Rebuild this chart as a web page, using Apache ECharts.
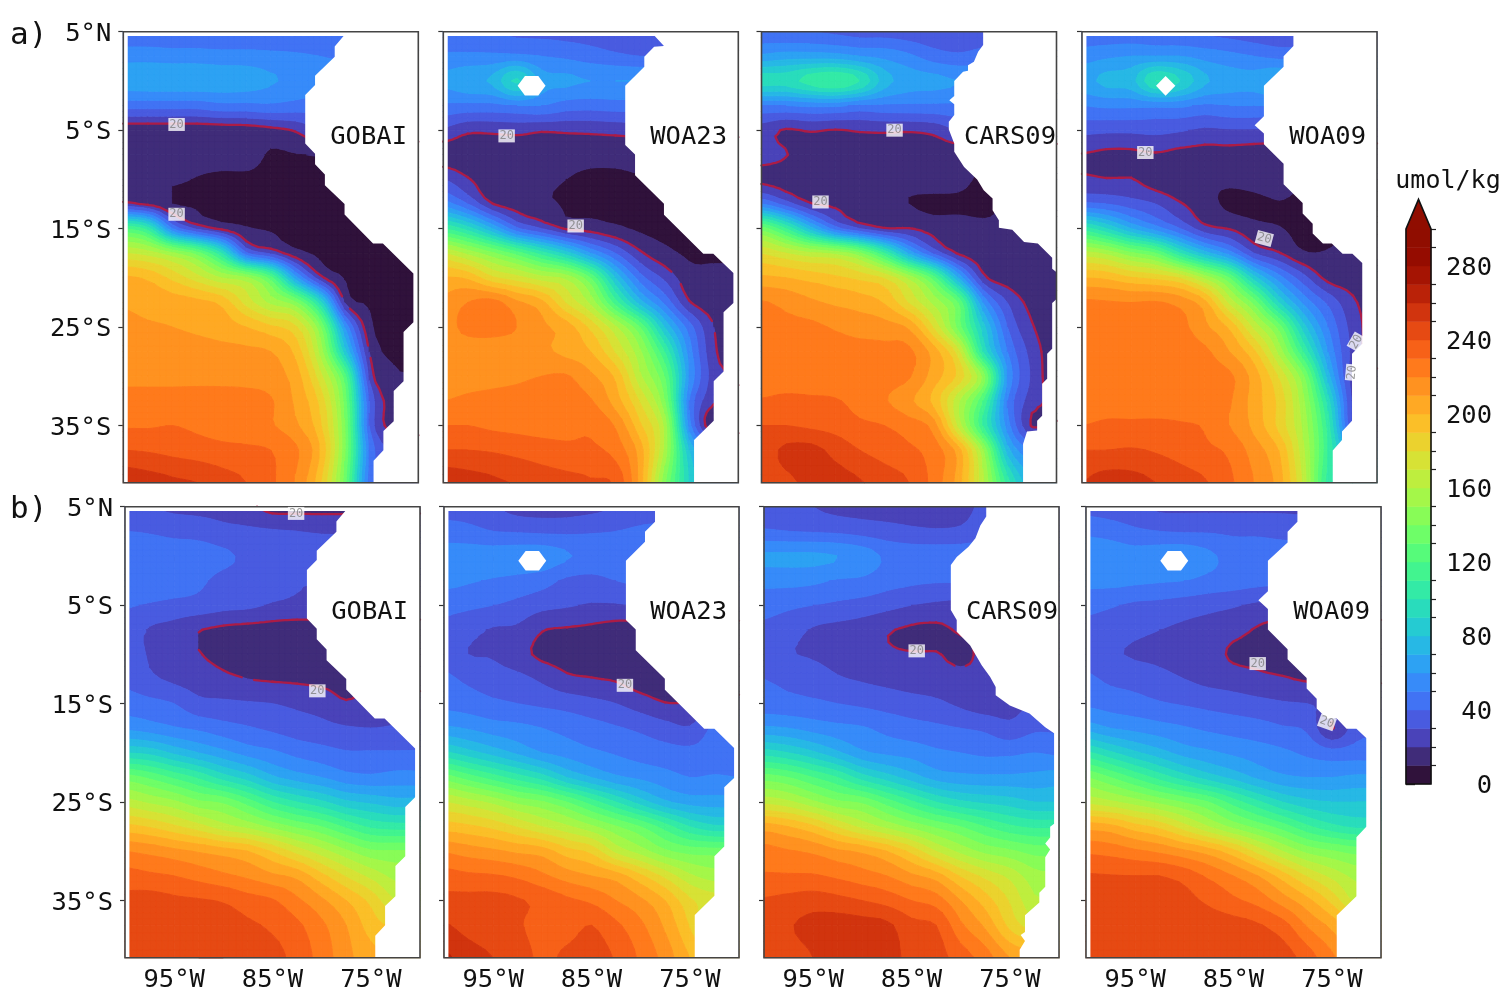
<!DOCTYPE html>
<html>
<head>
<meta charset="utf-8">
<style>html,body{margin:0;padding:0;background:#fff}#c{width:1506px;height:989px}</style>
<script src="https://cdn.jsdelivr.net/npm/echarts@6/dist/echarts.min.js"></script>
</head>
<body>
<div id="c"></div>
<script>
// Node positions of every field (degrees)
const lons = [-100,-97.5,-95,-92.5,-90,-87.5,-85,-82.5,-80,-77.5,-75,-72.5,-70];
const lats = [5,2.5,0,-2.5,-5,-7.5,-10,-12.5,-15,-17.5,-20,-22.5,-25,-27.5,-30,-32.5,-35,-37.5,-40.8];

// Values, umol/kg, one row per latitude
const gobaiA = [
[41,41,40,40,39,39,39,38,39,41,41,41,41],
[56,56,55,55,54,54,53,52,50,48,46,46,46],
[66,67,67,67,66,65,61,58,56,55,55,55,55],
[44,44,44,44,47,47,48,46,44,44,44,44,44],
[14,14,14,14,14.5,15,17,21,30,30,30,30,30],
[14,14,14,14,14,14,9,9.5,10.5,10,10,10,10],
[13,13,11.5,9.5,8,8,8,8,8,8,8,8,8],
[23,18,10,8.5,7,7,7,7,7,7,7,7,7],
[120,105,50,28,18,11,9,7,6.5,6.5,6.5,6.5,6.5],
[170,165,152,135,100,42,28,14,8,7,7,7,7],
[202,198,187,174,160,152,125,65,24,9.5,7,7,7],
[209,207,205,203,197,176,157,142,95,20,9,7,7],
[212,211,210,208,205,200,192,182,142,60,13,7,7],
[215,215,214,214,213,212,210,197,157,85,20,8,7],
[218,218,218,218,217,216,214,205,174,125,28,12,11],
[223,223,223,223,224,224,221,208,187,136,40,15,15],
[229,229,230,228,226,224,221,212,192,141,40,16,16],
[240,239,237,235,233,232,230,222,200,142,50,28,28],
[258,255,252,250,245,240,232,219,192,135,45,40,40]];
const woa23A = [
[40,42,40,38,37,36,35,33,32,30,30,30,30],
[52,52,52,52,50,48,45,42,40,40,40,40,40],
[62,68,72,92,65,62,60,60,60,60,60,60,60],
[48,47,47,50,50,45,44,45,45,45,45,45,45],
[28,22,22,23,21,21.5,22,23,24,24,24,24,24],
[15,14,14,14,14,14,13.5,13,13,13,13,13,13],
[30,21,13,12,12,10,8,8.5,9.5,9,9,9,9],
[55,40,20.5,15,12.5,9,8,8,8,8,8,8,8],
[110,95,70,42,30,19,16,12,8.5,7,7,7,7],
[170,157,142,125,105,85,60,40,22,13,8.5,8,8],
[201,198,182,174,164,157,130,80,45,28,14,13,13],
[212,220,224,212,203,179,157,115,75,48,21,15,14],
[214,224,224,220,212,205,187,162,130,80,45,20,14],
[212,212,214,213,212,207,200,179,152,110,55,22,15],
[215,216,217,218,220,221,212,198,162,130,60,25,20],
[220,222,223,224,226,224,221,205,179,141,50,22,18],
[230,230,228,227,226,226,228,219,192,157,55,10,10],
[240,240,239,237,235,233,232,226,205,157,80,50,50],
[258,255,252,249,245,243,241,238,206,142,90,60,60]];
const cars09A = [
[42,40,40,38,36,36,34,32,31,32,34,34,34],
[62,65,65,64,60,57,52,45,42,45,48,48,48],
[95,95,105,110,100,75,65,63,60,58,55,55,55],
[50,50,52,52,48,48,48,48,48,48,48,48,48],
[25,19,21,19.5,21,21.5,21,23,30,30,30,30,30],
[25,20.5,14,14,14,14,14,14,14,14,14,14,14],
[17,15,14,14,14,14,13,14,13,8.5,12,12,12],
[50,35,21,18,15,13,10,8,8,7.5,12,14,14],
[135,110,75,45,30,21,20.5,16,14,12,11,13,14],
[179,170,162,157,142,110,68,38,19,14,13,13,13],
[202,200,196,192,187,179,157,125,70,24,15,14,14],
[221,217,212,208,205,199,179,157,130,60,30,17,14],
[222,222,222,219,216,214,208,179,136,85,40,21,14],
[222,222,222,223,223,223,222,205,174,100,50,26,14],
[223,223,223,223,223,224,221,205,187,147,60,28,14],
[231,233,232,231,226,221,212,197,162,120,50,25,18],
[240,240,238,236,232,230,225,215,167,110,55,19,22],
[245,252,253,247,240,236,232,225,205,152,75,50,50],
[245,248,252,254,251,245,240,226,205,162,105,70,70]];
const woa09A = [
[42,42,42,42,40,38,36,33,31,31,31,31,31],
[55,58,60,60,60,56,53,50,47,46,46,46,46],
[66,73,76,100,90,72,65,64,70,60,60,60,60],
[50,52,52,52,52,48,50,50,50,50,50,50,50],
[33,32,32,33,31,28,29,29,28,28,28,28,28],
[19.5,18,18,19,17,16,16,15,15,15,15,15,15],
[22,20.5,20.5,15,13,12,12,13,14,10,10,10,10],
[42,40,35,30,21,14,8,8,9.5,8.5,8.5,8.5,8.5],
[105,90,70,55,40,24,19.5,13,10.5,8,9,9,9],
[164,157,142,130,100,75,55,30,21,11,10.5,12,12],
[200,198,191,187,179,157,130,85,55,34,17,15,14],
[222,221,220,221,216,203,167,136,90,58,38,22,15],
[223,223,223,224,223,212,198,167,136,85,50,26,15],
[223,223,224,224,224,222,210,192,157,110,60,27,15],
[224,224,224,224,224,224,222,205,179,142,75,25,22],
[224,225,225,225,225,224,221,205,187,152,95,28,22],
[230,232,232,232,231,229,220,207,187,157,105,30,22],
[240,240,241,239,236,232,228,215,200,162,110,60,60],
[250,255,254,250,245,241,232,220,205,167,105,90,90]];
const gobaiB = [
[32,30,28,27,26,22,17,17,17,17,17,17,17],
[40,39,37,36,33,32,31,30,29,29,30,30,30],
[49,47,46,45,42,38,37,36,35,34,34,34,34],
[48,47,46,42,37,36,34,31,30,30,30,30,30],
[41,39,37,36,33,32,29,28,28,28,28,28,28],
[36,29,26,20.5,18,17,16,15,15,15,15,15,15],
[36,29,26,20.5,18,17,16,15,15,15,15,15,15],
[38,32,28,25,22,20,19,18.5,17.5,16,16,16,16],
[45,43,40,33,32,31,30,28,26,21,25,25,25],
[58,55,51,48,44,41,38,35,33,31,30,31,33],
[90,87,78,70,63,56,52,47,44,41,41,41,41],
[135,128,118,108,95,85,72,65,60,54,52,54,54],
[164,158,152,142,138,125,110,100,92,82,78,74,74],
[193,189,182,174,164,157,147,138,130,118,108,105,105],
[220,217,213,209,205,200,189,176,164,152,142,141,141],
[234,232,230,226,222,218,212,207,193,179,167,157,157],
[243,244,242,241,239,234,231,222,212,200,187,170,167],
[246,246,247,247,246,242,238,232,222,210,195,187,179],
[249,249,249,250,250,248,244,236,226,213,204,198,195]];
const woa23B = [
[35,35,31,26,25,25,27,30,33,38,40,40,40],
[45,43,40,39,38,38,39,40,42,42,42,42,42],
[54,55,55,56,56,51,47,46,46,46,46,46,46],
[53,51,49,47,44,38,37,40,42,42,42,42,42],
[43,42,40,37,33,31,29,29,31,31,31,31,31],
[38,33,29,28,20.5,19,18,16,15,15,15,15,15],
[37,30,29,23.5,18,17,16,15,14,14,14,14,14],
[42,38,35,33,28,22,20.5,19,15,14,14,14,14],
[47,45,42,40,38,36,33,30,25,20.5,21,25,25],
[62,59,55,53,50,47,44,41,38,34,31,42,45],
[92,84,76,68,60,56,52,49,46,44,43,45,46],
[135,125,115,105,95,80,70,62,58,54,50,51,50],
[170,164,157,147,141,130,115,100,85,72,66,65,65],
[195,192,187,179,170,162,152,141,130,115,100,92,92],
[219,215,212,208,205,194,187,167,155,142,136,135,135],
[234,232,231,228,222,215,210,205,192,177,162,155,155],
[243,243,243,241,237,232,228,220,212,200,182,174,174],
[251,246,243,241,236,236,240,232,222,208,189,167,167],
[262,255,250,245,238,242,244,239,228,216,200,198,198]];
const cars09B = [
[36,34,30,27,26,25,25,25,26,33,36,36,36],
[41,40,39,38,36,34,32,31,32,37,38,38,38],
[62,62,62,60,56,48,46,46,46,45,45,45,45],
[53,53,52,49,48,44,42,41,41,41,41,41,41],
[44,42,40,38,36,33,30,28,27,27,27,27,27],
[38,34,29,27,25,21,18.5,18,21,22,22,22,22],
[38,31,29,27,25,21.5,20.5,20.5,18,22,22,22,22],
[40,38,35,31,29,27,25,24,23,22,23,23,23],
[44,43,42,40,38,36,34,32,28,24,26,30,30],
[62,60,56,53,51,47,44,42,40,38,33,38,38],
[95,90,82,72,62,58,56,52,50,48,48,50,48],
[135,130,120,110,95,85,75,66,63,62,62,63,65],
[167,162,152,142,138,125,112,100,92,88,85,80,80],
[205,200,192,179,167,157,147,138,130,120,112,108,108],
[224,221,218,212,208,200,187,170,157,147,142,136,136],
[231,231,231,228,224,220,212,205,189,177,167,154,152],
[241,243,245,243,240,236,230,225,210,195,179,162,162],
[244,249,253,255,254,252,243,240,222,208,187,174,174],
[243,246,250,256,256,254,247,244,235,225,210,205,205]];
const woa09B = [
[36,34,31,28,28,28,28,28,28,27,27,27,27],
[48,46,42,40,39,39,38,38,37,37,37,37,37],
[55,55,54,56,57,52,46,45,44,43,43,43,43],
[53,53,52,51,50,47,45,43,42,42,42,42,42],
[43,41,38,37,35,33,31,28,28,28,28,28,28],
[37,35,32,30,28,26,23,19,16,16,16,16,16],
[36,31.5,29,28,26,24,18.5,17.5,15,15,15,15,15],
[42,38,36,33,30,27,25,22.5,21,19,19,19,19],
[48,46,44,41,39,37,35,33,31,30,28,26,26],
[66,60,57,54,51,48,46,44,41,38,19.5,35,38],
[102,92,82,74,66,62,58,55,52,48,44,45,45],
[140,130,118,106,95,85,77,68,62,60,60,62,62],
[167,162,155,147,139,130,115,102,90,83,80,80,80],
[206,203,194,187,174,160,147,136,125,112,103,98,98],
[228,226,222,218,212,205,193,176,160,147,141,136,136],
[241,240.5,240,240,236,228,220,210,195,179,167,157,157],
[244,244,244,244,243,238,232,226,215,203,187,167,167],
[246,246,246,246,246,245,244,241,234,219,207,192,192],
[248,248,248,248,248,248,248,247,245,235,222,210,210]];

// Coastlines, [lon, lat]
const coastGobai = [[-77.6,4.56],[-78.5,3.5],[-78.5,2.46],[-80.5,.53],[-80.5,-.42],[-81.5,-1.44],[-81.5,-6.36],[-80.5,-7.4],[-80.5,-8.46],[-79.5,-9.5],[-79.5,-10.6],[-77.5,-12.5],[-77.5,-13.56],[-74.6,-16.5],[-73.6,-16.5],[-70.5,-19.55],[-70.5,-24.5],[-71.5,-25.5],[-71.5,-30.5],[-72.5,-31.5],[-72.5,-34.55],[-73.55,-35.55],[-73.55,-37.5],[-74.55,-38.56],[-74.55,-40.8]];
const coastWoa23A = [[-78.5,4.56],[-77.56,3.54],[-78.56,3.47],[-79.56,2.46],[-79.56,1.44],[-81.5,-.5],[-81.5,-6.5],[-80.5,-7.47],[-80.5,-9.58],[-77.56,-12.46],[-77.56,-13.6],[-73.56,-17.54],[-72.54,-17.54],[-70.5,-19.5],[-70.5,-22.56],[-71.5,-23.5],[-71.5,-29.5],[-72.5,-30.5],[-72.5,-34.5],[-74.5,-36.46],[-74.5,-40.8]];
const coastWoa23B = [[-78.54,4.56],[-78.54,3.47],[-79.56,2.46],[-79.56,1.44],[-81.5,-.5],[-81.5,-6.5],[-80.5,-7.47],[-80.5,-9.58],[-77.54,-12.46],[-77.54,-13.6],[-73.54,-17.54],[-72.5,-17.54],[-70.5,-19.5],[-70.5,-22.56],[-71.5,-23.5],[-71.5,-29.5],[-72.5,-30.5],[-72.5,-34.5],[-74.5,-36.46],[-74.5,-40.8]];
const coastCars09A = [[-77.46,5],[-77.46,3.64],[-77.97,2.97],[-78.4,1.95],[-79,1.6],[-79,1.03],[-79.5,.93],[-80.4,0],[-80.4,-1.54],[-80.9,-1.95],[-80.4,-2.36],[-80.4,-3.47],[-80.95,-4.15],[-80.95,-4.93],[-80.4,-6.36],[-80.4,-7.2],[-79.4,-8.73],[-78.07,-10],[-77.4,-11.1],[-76.5,-11.95],[-76.5,-13.14],[-75.86,-14.15],[-75.86,-14.9],[-74.5,-15.1],[-73.3,-16.35],[-71.9,-16.5],[-70.44,-17.95],[-70.44,-19.07],[-69.93,-19.47],[-69.93,-22.1],[-70.44,-22.56],[-70.44,-27.2],[-70.95,-27.7],[-70.95,-30.25],[-71.46,-30.76],[-71.46,-34],[-71.97,-34.5],[-71.97,-35.5],[-73,-35.6],[-73.4,-36.86],[-73.4,-40.8]];
const coastCars09B = [[-77.4,5],[-77.4,4],[-78,3.1],[-78.5,1.8],[-79.2,.93],[-80.4,-.1],[-81,-.93],[-81,-5.5],[-80.4,-6.5],[-80.4,-7.7],[-79.05,-9.07],[-77.86,-11.1],[-77,-12.3],[-76.44,-13.3],[-76.44,-14.15],[-75,-15.2],[-73,-16],[-71.4,-17.4],[-70.5,-18],[-70.5,-27.2],[-70.9,-27.5],[-70.9,-28.6],[-71.4,-29.2],[-70.9,-29.8],[-71.4,-30.6],[-71.4,-33.6],[-72,-34.2],[-72,-35.2],[-73.46,-36.5],[-73.46,-38.2],[-73.9,-38.5],[-73.46,-39.1],[-74,-40],[-74,-40.8]];
const coastWoa09A = [[-78.5,4.56],[-78.5,3.54],[-79.5,2.5],[-79.5,1.44],[-81.5,-.5],[-81.5,-3.58],[-82.44,-4.5],[-81.5,-5.34],[-81.5,-6.42],[-79.5,-8.4],[-79.5,-10.5],[-77.56,-12.4],[-77.56,-13.47],[-76.54,-14.5],[-76.54,-15.5],[-75.5,-16.5],[-74.6,-16.5],[-73.5,-17.54],[-72.5,-17.54],[-71.5,-18.5],[-71.5,-26.7],[-72.54,-27.7],[-72.54,-34.5],[-73.56,-35.6],[-73.56,-36.46],[-74.5,-37.54],[-74.5,-40.8]];
const coastWoa09B = [[-78.5,4.56],[-78.5,3.47],[-79.5,2.46],[-79.5,1.37],[-81.5,-.5],[-81.5,-3.58],[-82.47,-4.5],[-81.5,-5.4],[-81.5,-7.47],[-79.5,-9.47],[-79.5,-10.5],[-77.56,-12.4],[-77.56,-13.47],[-76.54,-14.5],[-76.54,-15.5],[-75.5,-16.5],[-74.5,-16.5],[-73.5,-17.54],[-72.5,-17.54],[-71.5,-18.5],[-71.5,-27.5],[-72.5,-28.56],[-72.5,-34.56],[-74.5,-36.5],[-74.5,-40.8]];
const islandHex = [[-92.44,-.49],[-91.7,.49],[-90.34,.49],[-89.6,-.49],[-90.34,-1.47],[-91.7,-1.47]];
const islandDiamond = [[-92.47,-.5],[-91.5,.5],[-90.5,-.5],[-91.5,-1.5]];

// Positions of the "20" contour labels: [lon, lat, rotation]
const labelsGobaiA = [[-94.58,-4.42,0],[-94.58,-13.54,0]];
const labelsWoa23A = [[-93.56,-5.58,0],[-86.54,-14.73,0]];
const labelsCars09A = [[-86.47,-5,0],[-94,-12.29,0]];
const labelsWoa09A = [[-93.56,-7.27,0],[-81.46,-16,-15],[-72.1,-26.5,60],[-72.54,-29.6,85]];
const labelsGobaiB = [[-82.6,4.32,0],[-80.44,-13.7,0]];
const labelsWoa23B = [[-81.6,-13.14,0]];
const labelsCars09B = [[-84.47,-9.64,0]];
const labelsWoa09B = [[-82.54,-10.93,0],[-75.5,-16.9,-20]];

const colorbarTicks = [0,40,80,120,160,200,240,280];
const colorbarMinor = [10,20,30,50,60,70,90,100,110,130,140,150,170,180,190,210,220,230,250,260,270,290,300];
const xTicks = [-95,-85,-75];
const yTicks = [5,-5,-15,-25,-35];
const contourLevel = 20;
const bandWidth = 10;

const panels = [
 {name:'GOBAI', field:gobaiA, coast:coastGobai, labels:labelsGobaiA, island:null, west:-99.55, north:4.56, left:123.3, top:31.7, tx:407, ty:137, yLab:true, xLab:false},
 {name:'WOA23', field:woa23A, coast:coastWoa23A, labels:labelsWoa23A, island:islandHex, west:-99.55, north:4.56, left:443.3, top:31.7, tx:727, ty:137, yLab:false, xLab:false},
 {name:'CARS09', field:cars09A, coast:coastCars09A, labels:labelsCars09A, island:null, west:-100, north:5, left:761.5, top:31.7, tx:1056, ty:137, yLab:false, xLab:false},
 {name:'WOA09', field:woa09A, coast:coastWoa09A, labels:labelsWoa09A, island:islandDiamond, west:-99.55, north:4.56, left:1082, top:31.7, tx:1366, ty:137, yLab:false, xLab:false},
 {name:'GOBAI', field:gobaiB, coast:coastGobai, labels:labelsGobaiB, island:null, west:-99.55, north:4.56, left:125, top:506.7, tx:408, ty:612.5, yLab:true, xLab:true},
 {name:'WOA23', field:woa23B, coast:coastWoa23B, labels:labelsWoa23B, island:islandHex, west:-99.55, north:4.56, left:444, top:506.7, tx:727, ty:612.5, yLab:false, xLab:true},
 {name:'CARS09', field:cars09B, coast:coastCars09B, labels:labelsCars09B, island:null, west:-100, north:5, left:764, top:506.7, tx:1058, ty:612.5, yLab:false, xLab:true},
 {name:'WOA09', field:woa09B, coast:coastWoa09B, labels:labelsWoa09B, island:islandHex, west:-99.55, north:4.56, left:1086, top:506.7, tx:1370, ty:612.5, yLab:false, xLab:true}
];

const MONO = '"DejaVu Sans Mono", monospace';
function turbo(x){
  if(x<=0) return '#30123b';
  const r=0.13572138+x*(4.6153926+x*(-42.66032258+x*(132.13108234+x*(-152.94239396+x*59.28637943))));
  const g=0.09140261+x*(2.19418839+x*(4.84296658+x*(-14.18503333+x*(4.27729857+x*2.82956604))));
  const b=0.1066733+x*(12.64194608+x*(-60.58204836+x*(110.36276771+x*(-89.90310912+x*27.34824973))));
  const c=v=>Math.max(0,Math.min(255,Math.round(v*255)));
  return 'rgb('+c(r)+','+c(g)+','+c(b)+')';
}
const bandColor = b => turbo(Math.min(b,29)/29);

function clip(poly, level, keepAbove){
  const out=[];
  for(let i=0;i<poly.length;i++){
    const a=poly[i], b=poly[(i+1)%poly.length];
    const ina=keepAbove? a[2]>=level : a[2]<=level;
    const inb=keepAbove? b[2]>=level : b[2]<=level;
    if(ina) out.push(a);
    if(ina!==inb){
      const t=(level-a[2])/(b[2]-a[2]);
      out.push([a[0]+t*(b[0]-a[0]),a[1]+t*(b[1]-a[1]),level]);
    }
  }
  return out;
}
const f2=v=>v.toFixed(2);
function addBands(tri, paths){
  const vs=tri.map(p=>p[2]);
  const lo=Math.min(vs[0],vs[1],vs[2]), hi=Math.max(vs[0],vs[1],vs[2]);
  for(let b=Math.floor(lo/bandWidth); b<=Math.floor(hi/bandWidth); b++){
    let poly=clip(tri,b*bandWidth,true);
    if(poly.length>2) poly=clip(poly,(b+1)*bandWidth,false);
    if(poly.length>2){
      paths[b]=(paths[b]||'')+'M'+poly.map(p=>f2(p[0])+' '+f2(p[1])).join('L')+'Z';
    }
  }
}
function addContour(tri, out){
  const pts=[];
  for(let i=0;i<3;i++){
    const a=tri[i], b=tri[(i+1)%3];
    if((a[2]-contourLevel)*(b[2]-contourLevel)<0){
      const t=(contourLevel-a[2])/(b[2]-a[2]);
      pts.push([a[0]+t*(b[0]-a[0]),a[1]+t*(b[1]-a[1])]);
    }
  }
  if(pts.length===2) out.s+='M'+f2(pts[0][0])+' '+f2(pts[0][1])+'L'+f2(pts[1][0])+' '+f2(pts[1][1]);
}
// contour surface through the read values: cubic between nodes, kept inside each cell's range
const SUB=4;
function cr(p0,p1,p2,p3,t){
  return 0.5*((2*p1)+(-p0+p2)*t+(2*p0-5*p1+4*p2-p3)*t*t+(-p0+3*p1-3*p2+p3)*t*t*t);
}
function surface(field,i,j,s,t){
  const nr=field.length,nc=field[0].length,R=[];
  for(let a=-1;a<=2;a++){
    const row=field[Math.max(0,Math.min(nr-1,i+a))];
    const g=d=>row[Math.max(0,Math.min(nc-1,j+d))];
    R.push(cr(g(-1),g(0),g(1),g(2),t));
  }
  const v=cr(R[0],R[1],R[2],R[3],s);
  const q=[field[i][j],field[i][j+1],field[i+1][j],field[i+1][j+1]];
  return Math.max(Math.min(q[0],q[1],q[2],q[3]),Math.min(Math.max(q[0],q[1],q[2],q[3]),v));
}
function cellTriangles(field,i,j,api){
  const A=api.coord([lons[j],lats[i]]),C=api.coord([lons[j+1],lats[i+1]]);
  const P=[];
  for(let a=0;a<=SUB;a++){
    const row=[];
    for(let b=0;b<=SUB;b++){
      const s=a/SUB,t=b/SUB;
      row.push([A[0]+(C[0]-A[0])*t,A[1]+(C[1]-A[1])*s,surface(field,i,j,s,t)]);
    }
    P.push(row);
  }
  const tris=[];
  for(let a=0;a<SUB;a++)for(let b=0;b<SUB;b++){
    tris.push([P[a][b],P[a][b+1],P[a+1][b+1]]);
    tris.push([P[a][b],P[a+1][b+1],P[a+1][b]]);
  }
  return tris;
}

const grids=[],xAxes=[],yAxes=[],series=[],graphics=[];
panels.forEach((p,k)=>{
  grids.push({left:p.left,top:p.top,width:295,height:451,show:false,containLabel:false,outerBoundsMode:'none'});
  xAxes.push({type:'value',gridIndex:k,min:-100,max:-70,splitLine:{show:false},axisLine:{show:false},
    axisTick:{show:true,length:5,lineStyle:{color:'#333',width:1.2},customValues:xTicks},
    axisLabel:{show:p.xLab,customValues:xTicks,formatter:v=>Math.abs(v)+'°W',fontFamily:MONO,fontSize:25.5,color:'#111',margin:10}});
  yAxes.push({type:'value',gridIndex:k,min:-40.8,max:5,splitLine:{show:false},axisLine:{show:false},
    axisTick:{show:true,length:5,lineStyle:{color:'#333',width:1.2},customValues:yTicks},
    axisLabel:{show:p.yLab,customValues:yTicks,formatter:v=>v>0?v+'°N':(-v)+'°S',fontFamily:MONO,fontSize:25.5,color:'#111',margin:12,verticalAlign:'top',lineHeight:5}});

  const nodes=[];
  lats.forEach((la,i)=>lons.forEach((lo,j)=>nodes.push([lo,la,p.field[i][j]])));
  const nc=lons.length, nr=lats.length;
  series.push({type:'custom',xAxisIndex:k,yAxisIndex:k,z:2,silent:true,animation:false,data:nodes,
    encode:{x:0,y:1},
    renderItem:function(params,api){
      const idx=params.dataIndex, i=Math.floor(idx/nc), j=idx%nc;
      if(i===nr-1||j===nc-1) return null;
      const paths={};
      cellTriangles(p.field,i,j,api).forEach(t=>addBands(t,paths));
      return {type:'group',children:Object.keys(paths).map(b=>{
        const col=bandColor(+b);
        return {type:'path',shape:{pathData:paths[b]},style:{fill:col,stroke:col,lineWidth:0.9},silent:true};
      })};
    }});
  series.push({type:'custom',xAxisIndex:k,yAxisIndex:k,z:3,silent:true,animation:false,data:nodes,
    encode:{x:0,y:1},
    renderItem:function(params,api){
      const idx=params.dataIndex, i=Math.floor(idx/nc), j=idx%nc;
      if(i===nr-1||j===nc-1) return null;
      const out={s:''};
      cellTriangles(p.field,i,j,api).forEach(t=>addContour(t,out));
      if(!out.s) return null;
      return {type:'path',shape:{pathData:out.s},style:{fill:null,stroke:'#ac1c46',lineWidth:2.3,lineCap:'round',lineJoin:'round'},silent:true};
    }});
  series.push({type:'custom',xAxisIndex:k,yAxisIndex:k,z:4,silent:true,animation:false,data:[[-100,5]],
    encode:{x:0,y:1},
    renderItem:function(params,api){
      const c=q=>api.coord(q);
      const white=pts=>({type:'polygon',shape:{points:pts.map(c)},style:{fill:'#fff',stroke:null},silent:true});
      const first=p.coast[0], last=p.coast[p.coast.length-1];
      const kids=[white([[first[0],5]].concat(p.coast,[[last[0],-40.8],[-70,-40.8],[-70,5]]))];
      if(p.west>-100) kids.push(white([[-100,5],[p.west,5],[p.west,-40.8],[-100,-40.8]]));
      if(p.north<5) kids.push(white([[-100,5],[-70,5],[-70,p.north],[-100,p.north]]));
      if(p.island) kids.push(white(p.island));
      kids.push({type:'polygon',shape:{points:[[-100,5],[-70,5],[-70,-40.8],[-100,-40.8]].map(c)},style:{fill:null,stroke:'#444',lineWidth:1.6},silent:true});
      return {type:'group',children:kids};
    }});
  series.push({type:'scatter',xAxisIndex:k,yAxisIndex:k,z:5,silent:true,animation:false,symbolSize:1,itemStyle:{color:'rgba(0,0,0,0)'},
    data:p.labels.map(l=>({value:[l[0],l[1]],label:{rotate:l[2]}})),
    label:{show:true,position:'inside',formatter:()=>String(contourLevel),fontFamily:MONO,fontSize:12,color:'#808080',backgroundColor:'#fff',padding:[1,1,0,1]}});
  graphics.push({type:'text',x:p.tx,y:p.ty,z:10,style:{text:p.name,font:'25.5px '+MONO,fill:'#111',textAlign:'right',textVerticalAlign:'middle'}});
});

// colour bar
const cb=panels.length;
grids.push({left:1406,top:229,width:25,height:555,show:false,outerBoundsMode:'none'});
xAxes.push({type:'value',gridIndex:cb,min:0,max:1,show:false});
yAxes.push({type:'value',gridIndex:cb,position:'right',min:0,max:300,splitLine:{show:false},axisLine:{show:false},
  axisTick:{show:true,length:9,lineStyle:{color:'#222',width:1.4},customValues:colorbarTicks},
  axisLabel:{show:true,customValues:colorbarTicks,align:'right',margin:61,fontFamily:MONO,fontSize:25.5,color:'#111',verticalAlign:'top',lineHeight:5}});
yAxes.push({type:'value',gridIndex:cb,position:'right',min:0,max:300,splitLine:{show:false},axisLine:{show:false},
  axisTick:{show:true,length:5,lineStyle:{color:'#222',width:1.2},customValues:colorbarMinor},axisLabel:{show:false}});
const bands=[];for(let b=0;b<30;b++)bands.push([b*bandWidth,(b+1)*bandWidth,b]);
series.push({type:'custom',xAxisIndex:cb,yAxisIndex:cb,z:2,silent:true,animation:false,data:bands,encode:{y:[0,1]},
  renderItem:function(params,api){
    const lo=api.value(0),hi=api.value(1),b=api.value(2);
    const a=api.coord([0,lo]),c=api.coord([1,hi]);
    return {type:'rect',shape:{x:a[0],y:c[1],width:c[0]-a[0],height:a[1]-c[1]},style:{fill:bandColor(b),stroke:bandColor(b),lineWidth:0.5},silent:true};
  }});
const barTip=316;
series.push({type:'custom',xAxisIndex:cb,yAxisIndex:cb,z:3,silent:true,animation:false,data:[[0,300]],encode:{y:1},
  renderItem:function(params,api){
    const c=q=>api.coord(q);
    const tip=[[0,300],[.5,barTip],[1,300]].map(c);
    const outline=[[0,0],[0,300],[.5,barTip],[1,300],[1,0]].map(c);
    return {type:'group',children:[
      {type:'polygon',shape:{points:tip},style:{fill:bandColor(29),stroke:null},silent:true},
      {type:'polygon',shape:{points:outline},style:{fill:null,stroke:'#111',lineWidth:1.6},silent:true}
    ]};
  }});
graphics.push({type:'text',x:1448,y:181,z:10,style:{text:'umol/kg',font:'25px '+MONO,fill:'#111',textAlign:'center',textVerticalAlign:'middle'}});
graphics.push({type:'text',x:10,y:36,z:10,style:{text:'a)',font:'31px '+MONO,fill:'#111',textVerticalAlign:'middle'}});
graphics.push({type:'text',x:10,y:510,z:10,style:{text:'b)',font:'31px '+MONO,fill:'#111',textVerticalAlign:'middle'}});

const chart=echarts.init(document.getElementById('c'),null,{renderer:'canvas',width:1506,height:989});
chart.setOption({animation:false,backgroundColor:'#fff',grid:grids,xAxis:xAxes,yAxis:yAxes,series:series,graphic:graphics});
</script>
</body>
</html>
